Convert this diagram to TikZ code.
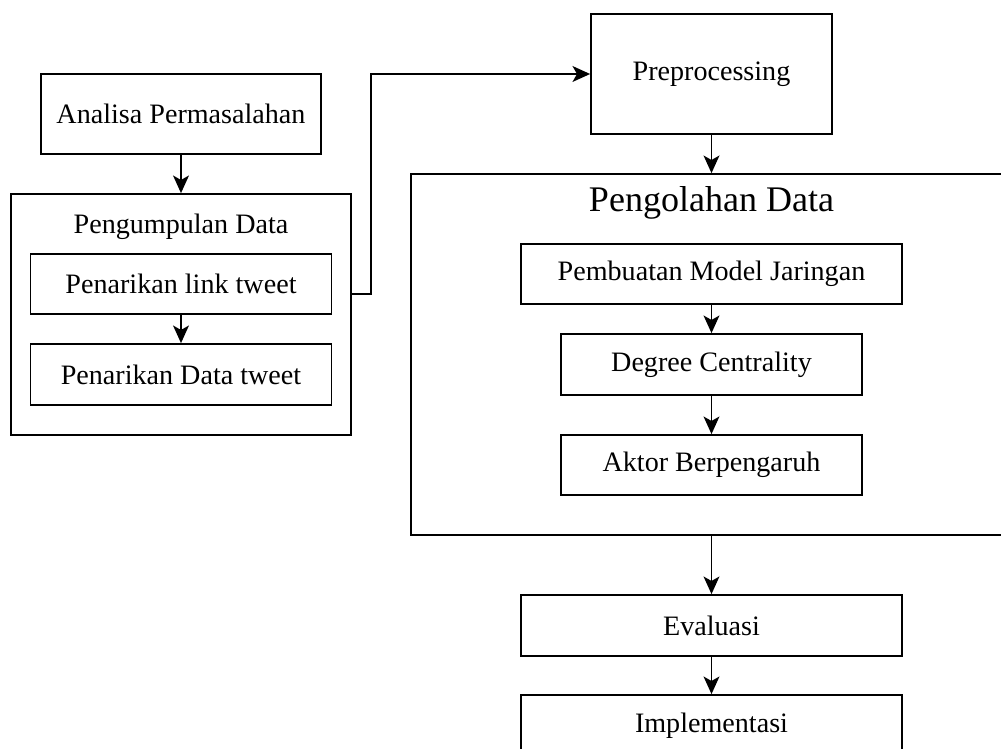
\documentclass[tikz,border=0pt]{standalone}
\usepackage{fontspec}
\setmainfont{Liberation Serif}
\usepackage{tikz}
\usetikzlibrary{arrows.meta, calc}

\tikzset{
  kotak/.style={draw, line width=1pt, inner sep=0pt, minimum width=6.02cm, minimum height=1.2cm},
  judul/.style={inner sep=0pt},
  panah/.style={->, line width=1pt}
}

\begin{document}
\begin{tikzpicture}[>={Stealth[length=10pt, width=9pt, inset=2.5pt]}, x=0.02cm, y=-0.02cm,
  font=\fontsize{16}{19}\selectfont]

  \path[use as bounding box, clip] (0,0) rectangle (1001,749);

  % --- Kolom kiri ---
  \node[kotak, minimum width=5.6cm, minimum height=1.6cm] (analisa) at (181,114) {Analisa Permasalahan};
  \node[kotak, minimum width=6.8cm, minimum height=4.82cm] (kumpul) at (181,314.5) {};
  \node[judul] (kumpulJudul) at (181,227) {Pengumpulan Data};
  \node[kotak] (link) at (181,284) {Penarikan link tweet};
  \node[kotak, minimum height=1.22cm] (datatw) at (181,374.5) {Penarikan Data tweet};

  % --- Kolom kanan ---
  \node[kotak, minimum width=4.82cm, minimum height=2.4cm] (prep) at (711.5,74) {Preprocessing};
  \node[kotak, minimum width=12.02cm, minimum height=7.22cm] (olah) at (711.5,354.5) {};
  \node[judul, font=\fontsize{20.5}{24}\selectfont] (olahJudul) at (711.5,203) {Pengolahan Data};
  \node[kotak, minimum width=7.62cm] (model) at (711.5,274) {Pembuatan Model Jaringan};
  \node[kotak, minimum height=1.22cm] (degree) at (711.5,364.5) {Degree Centrality};
  \node[kotak] (aktor) at (711.5,465) {Aktor Berpengaruh};
  \node[kotak, minimum width=7.62cm, minimum height=1.22cm] (eval) at (711.5,625.5) {Evaluasi};
  \node[kotak, minimum width=7.62cm, minimum height=1.22cm] (impl) at (711.5,725.5) {Implementasi};

  % --- Panah ---
  \draw[panah] (analisa) -- (kumpul);
  \draw[panah] (link) -- (datatw);
  \coordinate (belok) at (371,294);
  \draw[panah] (belok -| kumpul.east) -- (belok) |- (prep.west);
  \draw[panah] (prep) -- (olah.north);
  \draw[panah] (model) -- (degree);
  \draw[panah] (degree) -- (aktor);
  \draw[panah] (olah.south) -- (eval);
  \draw[panah] (eval) -- (impl);

\end{tikzpicture}
\end{document}
